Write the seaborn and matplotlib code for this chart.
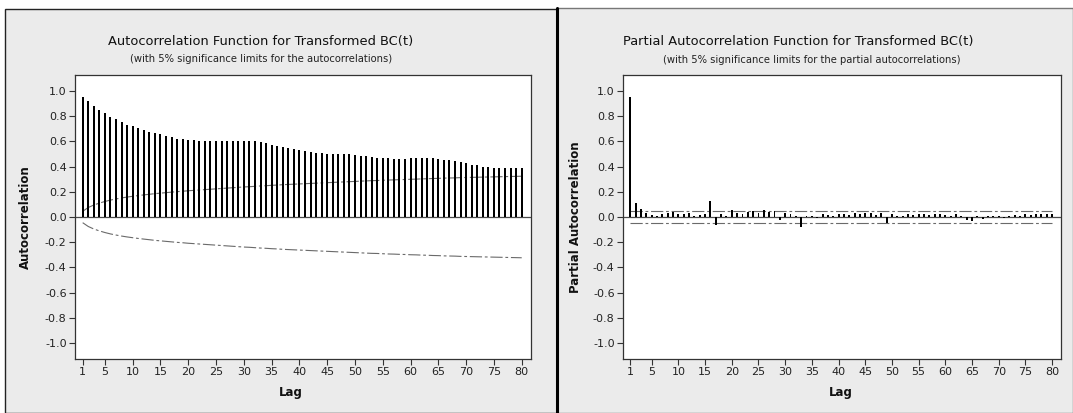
import numpy as np
import pandas as pd
import matplotlib
matplotlib.use("Agg")
import matplotlib.pyplot as plt
import seaborn as sns
from matplotlib.patches import Rectangle
from matplotlib.lines import Line2D

# ---------------- data ----------------
lags = list(range(1, 81))

acf_values = [
    0.950, 0.918, 0.883, 0.849, 0.825, 0.796, 0.775, 0.751, 0.732, 0.724,
    0.706, 0.687, 0.674, 0.666, 0.658, 0.642, 0.631, 0.621, 0.615, 0.613,
    0.607, 0.605, 0.600, 0.600, 0.602, 0.605, 0.605, 0.605, 0.605, 0.605,
    0.605, 0.605, 0.594, 0.584, 0.568, 0.560, 0.552, 0.544, 0.536, 0.528,
    0.523, 0.517, 0.509, 0.504, 0.501, 0.501, 0.501, 0.500, 0.496, 0.491,
    0.485, 0.480, 0.475, 0.470, 0.468, 0.465, 0.462, 0.460, 0.460, 0.465,
    0.470, 0.470, 0.470, 0.468, 0.460, 0.455, 0.450, 0.440, 0.435, 0.425,
    0.415, 0.410, 0.400, 0.395, 0.390, 0.385, 0.385, 0.385, 0.385, 0.385,
]

acf_limit = [
    0.045, 0.075, 0.095, 0.110, 0.123, 0.134, 0.143, 0.151, 0.158, 0.164,
    0.170, 0.175, 0.180, 0.185, 0.189, 0.193, 0.197, 0.201, 0.204, 0.208,
    0.211, 0.214, 0.217, 0.220, 0.223, 0.226, 0.229, 0.232, 0.235, 0.238,
    0.240, 0.243, 0.246, 0.248, 0.251, 0.253, 0.256, 0.258, 0.260, 0.262,
    0.264, 0.266, 0.268, 0.270, 0.272, 0.274, 0.276, 0.278, 0.280, 0.282,
    0.284, 0.286, 0.288, 0.289, 0.291, 0.293, 0.294, 0.296, 0.297, 0.299,
    0.300, 0.302, 0.303, 0.305, 0.306, 0.308, 0.309, 0.310, 0.312, 0.313,
    0.314, 0.315, 0.316, 0.317, 0.318, 0.319, 0.320, 0.321, 0.322, 0.323,
]

pacf_values = [
    0.950, 0.110, 0.065, 0.030, 0.015, 0.010, 0.020, 0.035, 0.040, 0.025,
    0.020, 0.030, 0.010, 0.015, 0.020, 0.125, -0.060, 0.025, 0.010, 0.055,
    0.035, 0.020, 0.040, 0.045, 0.035, 0.055, 0.040, 0.050, -0.020, 0.030,
    0.025, 0.010, -0.080, 0.005, 0.010, -0.005, 0.020, 0.015, 0.010, 0.020,
    0.025, 0.015, 0.030, 0.020, 0.030, 0.035, 0.015, 0.030, -0.045, 0.025,
    0.005, 0.010, 0.020, 0.015, 0.020, 0.020, 0.015, 0.025, 0.020, 0.015,
    0.010, 0.020, 0.005, -0.025, -0.030, 0.010, -0.015, 0.005, 0.010, 0.005,
    -0.010, 0.010, 0.015, 0.010, 0.020, 0.015, 0.020, 0.025, 0.020, 0.025,
]
pacf_limit = [0.045] * 80

x_ticks = [1, 5, 10, 15, 20, 25, 30, 35, 40, 45, 50, 55, 60, 65, 70, 75, 80]
y_ticks = [-1.0, -0.8, -0.6, -0.4, -0.2, 0.0, 0.2, 0.4, 0.6, 0.8, 1.0]

acf_title = "Autocorrelation Function for Transformed BC(t)"
acf_sub = "(with 5% significance limits for the autocorrelations)"
pacf_title = "Partial Autocorrelation Function for Transformed BC(t)"
pacf_sub = "(with 5% significance limits for the partial autocorrelations)"

# ---------------- style ----------------
sns.set_theme(style="ticks")
plt.rcParams['font.family'] = ['DejaVu Sans']
plt.rcParams['axes.unicode_minus'] = False

W, H = 1073, 413
fig = plt.figure(figsize=(W / 100, H / 100), dpi=100)
fig.patch.set_facecolor("white")


def frect(x0, y0, x1, y1):
    return [x0 / W, 1 - y1 / H, (x1 - x0) / W, (y1 - y0) / H]


# panel backgrounds (behind the axes)
panel_bg = "#ebebeb"
fig.patches.append(Rectangle((5 / W, 0), (557 - 5) / W, 1 - 9 / H,
                             transform=fig.transFigure, facecolor=panel_bg,
                             edgecolor="#222222", linewidth=1.0, zorder=-3))
fig.patches.append(Rectangle((557 / W, 0), (W - 557) / W, 1 - 8 / H,
                             transform=fig.transFigure, facecolor=panel_bg,
                             edgecolor="#777777", linewidth=1.0, zorder=-3))
fig.lines.append(Line2D([557 / W, 557 / W], [0, 1 - 8 / H], transform=fig.transFigure,
                        color="black", linewidth=2.2, zorder=-2))

df_acf = pd.DataFrame({"lag": lags, "acf": acf_values, "lim": acf_limit})
df_pacf = pd.DataFrame({"lag": lags, "pacf": pacf_values, "lim": pacf_limit})

ax1 = fig.add_axes(frect(75, 75, 531, 359))
ax2 = fig.add_axes(frect(623, 75, 1061, 359))

dash = (0, (11, 2.5, 2.5, 2.5))
lim_color = "#6a6a6a"

for ax, df, col in [(ax1, df_acf, "acf"), (ax2, df_pacf, "pacf")]:
    ax.set_facecolor("white")
    ax.axhline(0, color="#4a4a4a", linewidth=0.9, zorder=1)
    sns.barplot(data=df, x="lag", y=col, native_scale=True, width=0.36,
                color="black", saturation=1, errorbar=None, linewidth=0,
                ax=ax, zorder=3)
    for p in ax.patches:
        p.set_antialiased(False)
    df_neg = df.assign(nlim=-df["lim"])
    sns.lineplot(data=df, x="lag", y="lim", ax=ax, color=lim_color,
                 linewidth=0.8, linestyle=dash, zorder=2)
    sns.lineplot(data=df_neg, x="lag", y="nlim", ax=ax, color=lim_color,
                 linewidth=0.8, linestyle=dash, zorder=2)
    ax.set_xlim(-0.38, 81.67)
    ax.set_ylim(-1.125, 1.125)
    ax.set_xticks(x_ticks)
    ax.set_xticklabels([str(t) for t in x_ticks])
    ax.set_yticks(y_ticks)
    ax.set_yticklabels([f"{t:.1f}" for t in y_ticks])
    ax.tick_params(direction="out", length=4, width=0.8, color="#333333",
                   labelsize=8, labelcolor="#222222", pad=2)
    for s in ax.spines.values():
        s.set_visible(True)
        s.set_color("#333333")
        s.set_linewidth(0.9)
    ax.set_xlabel("Lag", fontsize=8.5, fontweight="bold", color="#111111")

ax1.set_ylabel("Autocorrelation", fontsize=8.5, fontweight="bold", color="#111111")
ax2.set_ylabel("Partial Autocorrelation", fontsize=8.5, fontweight="bold", color="#111111")
ax1.yaxis.set_label_coords(-0.094, 0.5)
ax2.yaxis.set_label_coords(-0.094, 0.5)
ax1.xaxis.set_label_coords(0.474, -0.095)
ax2.xaxis.set_label_coords(0.497, -0.095)

fig.text(261 / W, 1 - 42 / H, acf_title, ha="center", va="center", fontsize=9.4, color="#111111")
fig.text(261 / W, 1 - 59 / H, acf_sub, ha="center", va="center", fontsize=7.2, color="#222222")
fig.text(798 / W, 1 - 42 / H, pacf_title, ha="center", va="center", fontsize=9.4, color="#111111")
fig.text(812 / W, 1 - 60 / H, pacf_sub, ha="center", va="center", fontsize=7.2, color="#222222")

fig.savefig("out.png", dpi=100, facecolor="white")
